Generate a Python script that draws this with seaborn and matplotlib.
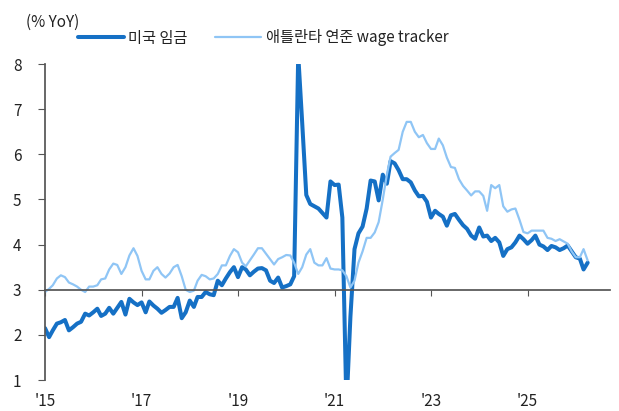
import matplotlib
matplotlib.use("Agg")
import matplotlib.pyplot as plt
import seaborn as sns
import pandas as pd
import numpy as np

# monthly series, Jan 2015 onwards (% YoY)
us_wage = [
    2.15, 1.95, 2.1, 2.25, 2.28, 2.33, 2.1, 2.17, 2.25, 2.29, 2.47, 2.43,
    2.5, 2.58, 2.42, 2.47, 2.6, 2.47, 2.6, 2.73, 2.45, 2.8, 2.72, 2.66,
    2.72, 2.5, 2.74, 2.65, 2.58, 2.49, 2.55, 2.62, 2.62, 2.82, 2.37, 2.5,
    2.76, 2.62, 2.84, 2.84, 2.95, 2.9, 2.88, 3.2, 3.1, 3.25, 3.39, 3.5,
    3.28, 3.5, 3.45, 3.32, 3.4, 3.47, 3.48, 3.43, 3.2, 3.15, 3.27, 3.05,
    3.08, 3.12, 3.3, 8.2, 6.7, 5.1, 4.9, 4.85, 4.8, 4.7, 4.6, 5.4,
    5.32, 5.33, 4.6, 0.4, 2.4, 3.9, 4.25, 4.4, 4.8, 5.42, 5.4, 4.98,
    5.55, 5.35, 5.85, 5.8, 5.65, 5.45, 5.45, 5.38, 5.2, 5.07, 5.08, 4.95,
    4.6, 4.75, 4.68, 4.62, 4.42, 4.65, 4.68, 4.55, 4.43, 4.35, 4.2, 4.13,
    4.38, 4.18, 4.2, 4.08, 4.15, 4.05, 3.75, 3.9, 3.94, 4.05, 4.2, 4.12,
    4.02, 4.1, 4.2, 4.0, 3.96, 3.88, 3.97, 3.94, 3.88, 3.92, 3.98, 3.85,
    3.72, 3.69, 3.45, 3.6,
]
atl_tracker = [
    2.95, 3.02, 3.1, 3.25, 3.32, 3.28, 3.16, 3.12, 3.07, 3.0, 2.95, 3.07,
    3.07, 3.1, 3.23, 3.25, 3.45, 3.58, 3.55, 3.35, 3.5, 3.76, 3.92, 3.75,
    3.42, 3.23, 3.23, 3.42, 3.5, 3.35, 3.27, 3.36, 3.5, 3.55, 3.3, 3.0,
    2.95, 2.98, 3.2, 3.33, 3.3, 3.23, 3.25, 3.35, 3.54, 3.54, 3.75, 3.9,
    3.83, 3.6, 3.52, 3.65, 3.78, 3.92, 3.92, 3.8, 3.68, 3.56, 3.68, 3.72,
    3.77, 3.76, 3.6, 3.35, 3.5, 3.78, 3.9, 3.6, 3.54, 3.54, 3.7, 3.47,
    3.45, 3.45, 3.43, 3.3, 3.05, 3.2, 3.6, 3.85, 4.15, 4.15, 4.27, 4.5,
    5.0, 5.55, 5.95, 6.03, 6.1, 6.5, 6.72, 6.72, 6.5, 6.38, 6.43, 6.25,
    6.12, 6.12, 6.35, 6.2, 5.93, 5.72, 5.7, 5.45, 5.3, 5.2, 5.09, 5.18,
    5.18, 5.08, 4.75, 5.32, 5.25, 5.32, 4.85, 4.73, 4.78, 4.8, 4.55, 4.28,
    4.25, 4.31, 4.31, 4.31, 4.31, 4.15, 4.13, 4.08, 4.12, np.nan, 4.02, 3.85,
    3.72, 3.72, 3.9, 3.65,
]
year_ticks = [2015, 2017, 2019, 2021, 2023, 2025]
tick_labels = ["'15", "'17", "'19", "'21", "'23", "'25"]

dates = pd.date_range("2015-01-01", periods=len(us_wage), freq="MS")
df = pd.DataFrame({"date": dates, "us": us_wage, "atl": atl_tracker})

sns.set_theme(style="white")
plt.rcParams['font.family'] = ['Noto Sans CJK KR', 'DejaVu Sans']

fig = plt.figure(figsize=(6.19, 4.11), dpi=100)
ax = fig.add_axes([0.0727, 0.0754, 0.9123, 0.7686])

dark = '#1570c5'
light = '#8fc5f5'
# light line goes on top of the dark one
sns.lineplot(data=df, x='date', y='us', ax=ax, color=dark, linewidth=2.9, label='미국 임금')
sns.lineplot(data=df, x='date', y='atl', ax=ax, color=light, linewidth=1.6, label='애틀란타 연준 wage tracker')

ax.set_xlim(pd.Timestamp('2015-01-01'), pd.Timestamp('2026-09-15'))
ax.set_ylim(1, 8)
ax.set_xlabel('')
ax.set_ylabel('')

# x axis line sits at y = 3
axis_col = '#555555'
for s in ['top', 'right']:
    ax.spines[s].set_visible(False)
ax.spines['left'].set_color(axis_col)
ax.spines['bottom'].set_color(axis_col)
ax.spines['bottom'].set_position(('data', 3))
ax.set_yticks(range(1, 9))
ax.tick_params(axis='y', direction='out', length=5, width=0.8, color=axis_col,
               pad=12, labelsize=11, labelcolor='#222222', left=True)
xt = [pd.Timestamp(f"{y}-01-01") for y in year_ticks]
ax.set_xticks(xt)
ax.tick_params(axis='x', direction='out', length=4, width=0.8, color=axis_col,
               labelbottom=False, bottom=True)

# labels stay at the bottom edge
sec = ax.secondary_xaxis('bottom')
sec.set_xticks(xt)
sec.set_xticklabels(tick_labels)
sec.spines['bottom'].set_visible(False)
sec.tick_params(axis='x', length=0, pad=9, labelsize=11, labelcolor='#222222')

fig.text(26 / 619, 1 - 22 / 411, '(% YoY)', fontsize=11, color='#222222', va='center', ha='left')

handles, labels = ax.get_legend_handles_labels()
ax.get_legend().remove()
fig.legend(handles, labels, loc='center', bbox_to_anchor=(263 / 619, 1 - 38 / 411),
           ncol=2, frameon=False, fontsize=11, handlelength=3.0, handletextpad=0.3,
           columnspacing=1.8, labelcolor='#222222')

fig.savefig('out.png', dpi=100)
